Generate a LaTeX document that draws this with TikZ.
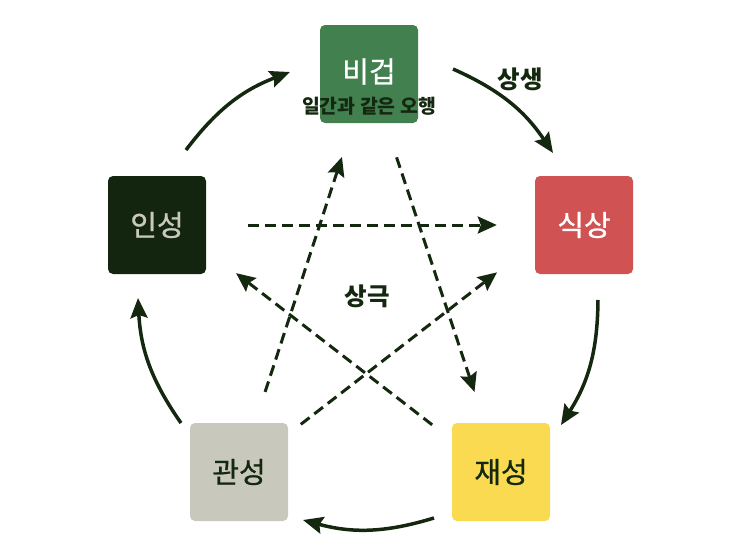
\documentclass[tikz,border=0pt]{standalone}
\usepackage{fontspec}
\setmainfont{Noto Sans CJK KR}
\newfontfamily\boxfont[FakeBold=0.8]{Noto Sans CJK KR}
\usepackage{xcolor}
\usetikzlibrary{arrows.meta}

\definecolor{ink}{HTML}{14280F}
\definecolor{wood}{HTML}{42804F}
\definecolor{fire}{HTML}{D05252}
\definecolor{water}{HTML}{13250F}
\definecolor{metal}{HTML}{C8C8BC}
\definecolor{earth}{HTML}{FADA50}

\tikzset{
  box/.style={rounded corners=5pt, minimum width=98pt, minimum height=98pt,
    inner sep=0pt, font=\boxfont\fontsize{29}{33}\selectfont},
  saeng/.style={ink, line width=3.5pt, -{Stealth[length=20pt,width=17pt,inset=3pt]}},
  geuk/.style={ink, line width=3pt, dash pattern=on 11pt off 6pt,
    -{Stealth[length=19pt,width=17pt,inset=3pt]}},
  tag/.style={ink, font=\bfseries\fontsize{24.5}{28}\selectfont},
}

\begin{document}
\begin{tikzpicture}[x=1pt,y=1pt]
  \useasboundingbox (0,0) rectangle (740,-549);

  % five boxes
  \node[box, fill=wood] (bigeop) at (369,-74) {};
  \node[box, fill=fire, text=white] (siksang) at (584,-225) {식상};
  \node[box, fill=water, text=metal] (inseong) at (157,-225) {인성};
  \node[box, fill=metal, text=ink] (gwanseong) at (239,-472) {관성};
  \node[box, fill=earth, text=ink] (jaeseong) at (501,-472) {재성};

  \node[text=white, font=\boxfont\fontsize{29}{33}\selectfont] (bigeop-name)
    at ([yshift=2.5pt]bigeop.center) {비겁};
  \node[ink, font=\bfseries\fontsize{19.4}{22}\selectfont] (bigeop-sub)
    at ([yshift=-32pt]bigeop.center) {일간과 같은 오행};

  % outer circle
  \coordinate (a1s) at (186,-150); \coordinate (a1e) at (290,-72);
  \coordinate (a2s) at (453,-69);  \coordinate (a2e) at (553,-153);
  \coordinate (a3s) at (598,-300); \coordinate (a3e) at (561,-425);
  \coordinate (a4s) at (434,-518); \coordinate (a4e) at (303,-520);
  \coordinate (a5s) at (181,-423); \coordinate (a5e) at (138,-298);

  \draw[saeng] (a1s) to[bend left=16] (a1e);
  \draw[saeng] (a2s) to[bend left=16] (a2e);
  \draw[saeng] (a3s) to[bend left=16] (a3e);
  \draw[saeng] (a4s) to[bend left=16] (a4e);
  \draw[saeng] (a5s) to[bend left=16] (a5e);

  \node[tag] (saeng-label) at (520,-79) {상생};

  % inner star
  \draw[geuk, shorten <=42pt, shorten >=38pt] (inseong) -- (siksang);
  \draw[geuk, shorten <=32.5pt, shorten >=35.5pt] (gwanseong) -- (bigeop);
  \draw[geuk, shorten <=36pt, shorten >=32.5pt] (bigeop) -- (jaeseong);
  \draw[geuk, shorten <=16pt, shorten >=110pt] (gwanseong) -- ([yshift=20pt]siksang.center);
  \draw[geuk, shorten <=87pt, shorten >=100pt]
    ([yshift=-6pt]jaeseong.center) -- ([yshift=13pt]inseong.center);

  \node[tag] (geuk-label) at (367,-296) {상극};
\end{tikzpicture}
\end{document}
